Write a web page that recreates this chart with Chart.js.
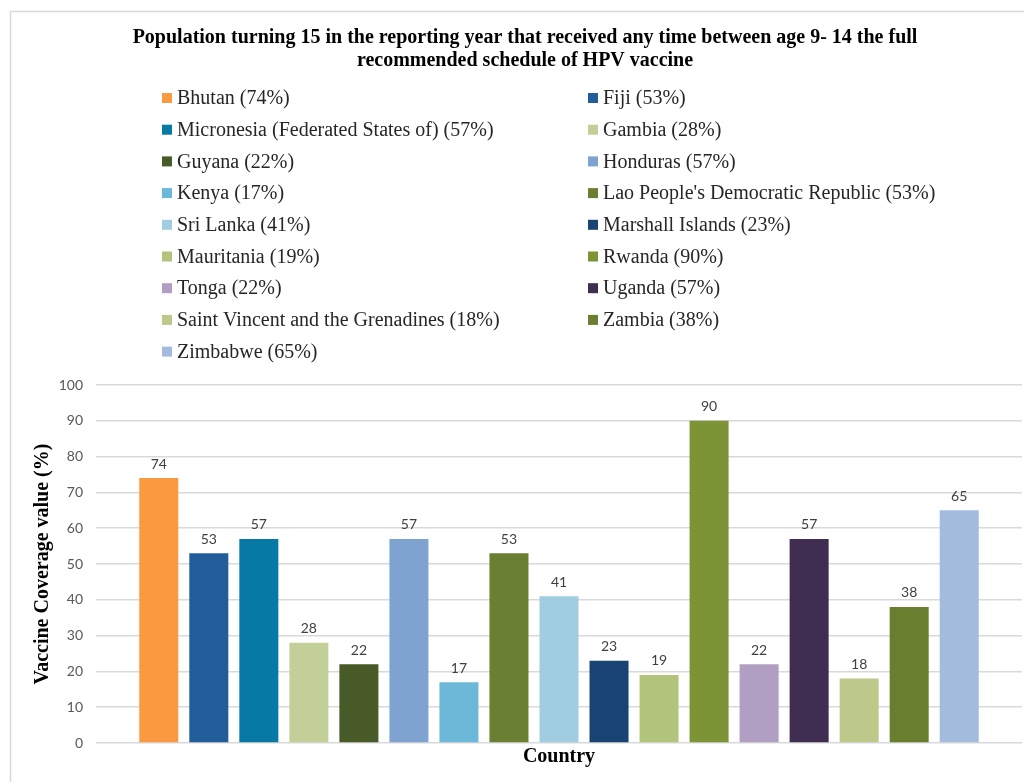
<!DOCTYPE html>
<html>
<head>
<meta charset="utf-8">
<script src="https://cdn.jsdelivr.net/npm/chart.js@4.4.1/dist/chart.umd.min.js"></script>
<style>
  html, body { margin: 0; padding: 0; background: #fff; }
  #wrap { width: 1024px; height: 782px; position: relative; }
</style>
</head>
<body>
<div id="wrap"><canvas id="hpvChart" width="1024" height="782"></canvas></div>
<script>
const countries = [
  "Bhutan", "Fiji", "Micronesia (Federated States of)", "Gambia", "Guyana",
  "Honduras", "Kenya", "Lao People's Democratic Republic", "Sri Lanka",
  "Marshall Islands", "Mauritania", "Rwanda", "Tonga", "Uganda",
  "Saint Vincent and the Grenadines", "Zambia", "Zimbabwe"
];
const coverage = [74, 53, 57, 28, 22, 57, 17, 53, 41, 23, 19, 90, 22, 57, 18, 38, 65];
const barColors = [
  "#f99a41", "#215d99", "#0779a5", "#c3cf98", "#475a27", "#7fa3d1",
  "#6bb8d8", "#6b7f32", "#a0cde1", "#184372", "#b2c47b", "#7c9436",
  "#b09fc3", "#3f2e51", "#bcc98b", "#6a7e30", "#a3bbdd"
];
const yTicks = [0, 10, 20, 30, 40, 50, 60, 70, 80, 90, 100];

const serif = "'Liberation Serif', 'Times New Roman', serif";

// grey frame like the exported Excel chart
const framePlugin = {
  id: "frame",
  beforeDraw(chart) {
    const ctx = chart.ctx;
    ctx.save();
    ctx.strokeStyle = "#d9d9d9";
    ctx.lineWidth = 1.5;
    ctx.strokeRect(10.5, 11.5, 1100, 900);
    ctx.restore();
  }
};

// two column legend, one entry per country
const columnLegend = {
  id: "columnLegend",
  afterDraw(chart) {
    const ctx = chart.ctx;
    const labels = chart.data.labels;
    const ds = chart.data.datasets[0];
    ctx.save();
    ctx.font = "20px " + serif;
    ctx.textBaseline = "middle";
    labels.forEach((name, i) => {
      const col = i % 2;
      const row = Math.floor(i / 2);
      const x = col === 0 ? 162 : 588;
      const y = 98 + row * 31.7;
      ctx.fillStyle = ds.backgroundColor[i];
      ctx.fillRect(x, y - 5, 10, 10);
      ctx.fillStyle = "#262626";
      ctx.fillText(name + " (" + ds.data[i].y + "%)", x + 15, y + 1);
    });
    ctx.restore();
  }
};

// value labels above each bar
const barValues = {
  id: "barValues",
  afterDatasetsDraw(chart) {
    const ctx = chart.ctx;
    const meta = chart.getDatasetMeta(0);
    ctx.save();
    ctx.font = "14px Lato, 'Open Sans', sans-serif";
    ctx.fillStyle = "#404040";
    ctx.textAlign = "center";
    ctx.textBaseline = "bottom";
    meta.data.forEach((bar, i) => {
      ctx.fillText(String(chart.data.datasets[0].data[i].y), bar.x, bar.y - 7);
    });
    ctx.restore();
  }
};

new Chart(document.getElementById("hpvChart").getContext("2d"), {
  type: "bar",
  data: {
    labels: countries,
    datasets: [{
      label: "Vaccine coverage",
      data: coverage.map((v, i) => ({ x: i, y: v })),
      backgroundColor: barColors,
      borderWidth: 0,
      barPercentage: 0.78,
      categoryPercentage: 1
    }]
  },
  options: {
    responsive: false,
    animation: false,
    layout: { padding: { top: 0, left: 28, bottom: 0, right: 2 } },
    plugins: {
      legend: { display: false },
      tooltip: { enabled: false },
      title: {
        display: true,
        text: [
          "Population turning 15 in the reporting year that received any time between age 9- 14 the full",
          "recommended schedule of HPV vaccine"
        ],
        color: "#000",
        font: { family: serif, size: 20, weight: "bold", lineHeight: 1.15 },
        padding: { top: 26, bottom: 313 }
      }
    },
    scales: {
      x: {
        type: "linear",
        offset: false,
        min: -1.255,
        max: 17.255,
        grid: { display: false, offset: false },
        border: { display: false },
        ticks: { display: false },
        title: {
          display: true,
          text: "Country",
          color: "#000",
          font: { family: serif, size: 20, weight: "bold", lineHeight: 1.2 },
          padding: { top: 2, bottom: 13 }
        },
        afterFit(scale) { scale.height = 39; }
      },
      y: {
        min: 0,
        max: 100,
        afterBuildTicks(scale) { scale.ticks = yTicks.map(v => ({ value: v })); },
        grid: { color: "#d9d9d9", lineWidth: 1.5, drawTicks: false },
        border: { display: false },
        ticks: {
          color: "#595959",
          padding: 13,
          font: { family: "Lato, 'Open Sans', sans-serif", size: 14 }
        },
        title: {
          display: true,
          text: "Vaccine Coverage value (%)",
          color: "#000",
          font: { family: serif, size: 20, weight: "bold", lineHeight: 1.2 },
          padding: { top: 3, bottom: 0 }
        },
        afterFit(scale) { scale.width = 68; }
      }
    }
  },
  plugins: [framePlugin, columnLegend, barValues]
});
</script>
</body>
</html>
